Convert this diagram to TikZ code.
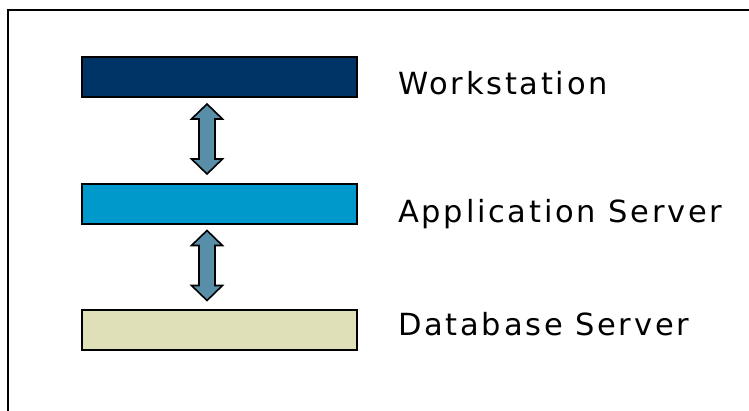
\documentclass[tikz,border=0pt]{standalone}
\usepackage{fontspec}
\setmainfont{DejaVu Sans}[LetterSpace=9]
\begin{document}
\begin{tikzpicture}[x=1pt,y=-1pt,
  tier/.style={draw=black, line width=1.6pt, anchor=north west, inner sep=0pt,
    minimum width=275pt, minimum height=40pt},
  label/.style={anchor=base west, inner sep=0pt, font=\fontsize{30.5}{36}\selectfont},
  blockarrow/.style={draw=black, line width=1.6pt, fill=arrowfill, line join=miter},
  pics/updown/.style={code={
    \draw[blockarrow] (0,-35) -- (15.5,-20) -- (8,-20) -- (8,20) -- (15.5,20)
      -- (0,35) -- (-15.5,20) -- (-8,20) -- (-8,-20) -- (-15.5,-20) -- cycle;}}]
\definecolor{navy}{RGB}{0,51,102}
\definecolor{cyanblue}{RGB}{0,153,204}
\definecolor{beige}{RGB}{224,224,184}
\definecolor{arrowfill}{RGB}{88,142,168}
\useasboundingbox (0,0) rectangle (749,411);
% outer frame, running off the right and bottom edges
\begin{scope}
  \clip (0,0) rectangle (749,411);
  \draw[line width=2pt] (7.5,10) rectangle (800,450);
\end{scope}
% tiers
\node[tier, fill=navy] (ws) at (81,56) {};
\node[tier, fill=cyanblue] (app) at (81,183) {};
\node[tier, fill=beige] (db) at (81,309) {};
% labels
\node[label] (wslabel) at (398,95) {Workstation};
\node[label] (applabel) at (398,223) {Application Server};
\node[label] (dblabel) at (398,335) {Database Server};
% double-headed block arrows between tiers
\pic at (207,139) {updown};
\pic at (207,265.5) {updown};
\end{tikzpicture}
\end{document}
